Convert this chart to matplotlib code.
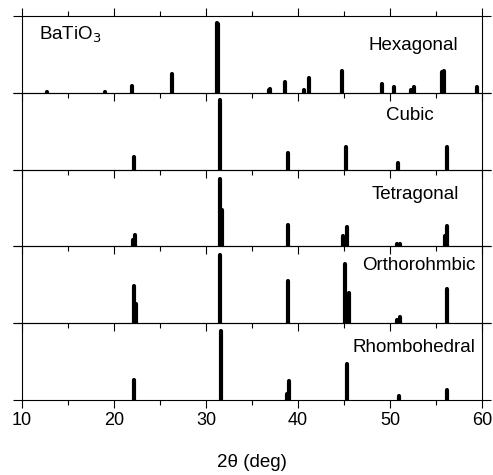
import numpy as np
import matplotlib
matplotlib.use('Agg')
import matplotlib.pyplot as plt

plt.rcParams['font.family'] = ['Liberation Sans', 'DejaVu Sans']

# peak positions (2theta) and relative intensities (% of panel height)
hex_pos = [12.68, 19.0, 22.0, 26.27, 31.18, 31.32, 36.8, 36.98, 38.59, 40.69, 41.23,
           44.82, 49.17, 50.47, 52.3, 52.6, 55.6, 55.8, 59.42]
hex_int = [1, 1, 8.7, 24, 91, 89, 4, 5, 14, 3, 19.5,
           29, 11, 7, 3, 7, 27, 28, 8]

cub_pos = [22.21, 31.52, 38.88, 45.22, 50.9, 56.16]
cub_int = [17, 90, 21, 29, 8, 30]

tet_pos = [22.1, 22.25, 31.5, 31.7, 38.9, 44.93, 45.36, 50.78, 51.05, 55.98, 56.23]
tet_int = [8, 15, 88, 48, 28, 13, 25, 3, 3, 13, 26]

ort_pos = [22.17, 22.39, 31.49, 38.91, 45.14, 45.5, 50.72, 51.09, 56.16]
ort_int = [48, 25, 89, 55, 77, 39, 4, 8, 45]

rho_pos = [22.21, 31.59, 38.77, 38.99, 45.29, 50.98, 56.16]
rho_int = [26, 90, 8, 25, 47, 5, 13]

names = ['Hexagonal', 'Cubic', 'Tetragonal', 'Orthorohmbic', 'Rhombohedral']
positions = [hex_pos, cub_pos, tet_pos, ort_pos, rho_pos]
intensities = [hex_int, cub_int, tet_int, ort_int, rho_int]
label_xy = [(57.4, 0.62), (54.7, 0.70), (57.5, 0.68), (59.3, 0.75), (59.3, 0.68)]

fig = plt.figure(figsize=(4.93, 4.75), dpi=100)
gs = fig.add_gridspec(5, 1, left=0.0446, right=0.978, top=0.9663, bottom=0.158, hspace=0)

axes = []
for i in range(5):
    ax = fig.add_subplot(gs[i])
    ax.set_facecolor('none')
    ax.vlines(positions[i], 0, intensities[i], colors='k', lw=3, capstyle='round')
    ax.set_xlim(10, 60)
    ax.set_ylim(0, 100)
    ax.set_xticks([10, 20, 30, 40, 50, 60])
    ax.set_xticks([15, 25, 35, 45, 55], minor=True)
    ax.set_yticks([0, 100])
    ax.tick_params(axis='y', which='both', left=True, right=True, direction='out',
                   length=6.5, width=0.8, labelleft=False)
    ax.tick_params(axis='x', which='major', direction='out', length=6, width=0.8,
                   top=(i == 0), bottom=True, labelsize=13, pad=3)
    ax.tick_params(axis='x', which='minor', direction='out', length=3.5, width=0.8,
                   top=(i == 0), bottom=True)
    if i < 4:
        ax.tick_params(axis='x', labelbottom=False)
    for sp in ax.spines.values():
        sp.set_linewidth(0.8)
    lx, ly = label_xy[i]
    ax.text(lx, ly, names[i], transform=ax.get_xaxis_transform(), ha='right', va='center',
            fontsize=13.5)
    axes.append(ax)

axes[0].text(11.8, 0.75, 'BaTiO$_3$', transform=axes[0].get_xaxis_transform(),
             ha='left', va='center', fontsize=13.5)
axes[-1].set_xlabel('2\u03b8 (deg)', fontsize=13.5, labelpad=18)

fig.savefig('out.png', dpi=100)
